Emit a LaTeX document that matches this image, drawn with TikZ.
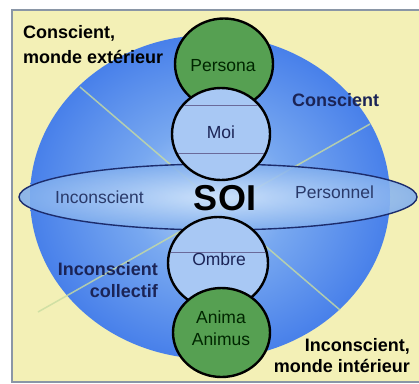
\documentclass[tikz,border=0pt]{standalone}
\usepackage{fontspec}
\setmainfont{Liberation Sans}
\usetikzlibrary{shapes.geometric}
\definecolor{bgyellow}{HTML}{F3F0B6}
\definecolor{framegray}{HTML}{8A96A6}
\definecolor{spherein}{HTML}{B8D6F8}
\definecolor{spheremid}{HTML}{78A8F0}
\definecolor{sphereout}{HTML}{4880EA}
\definecolor{discin}{HTML}{D0E4FB}
\definecolor{discout}{HTML}{80AEEE}
\definecolor{discline}{HTML}{1C2C6C}
\definecolor{cellblue}{HTML}{A8C8F4}
\definecolor{cellgreen}{HTML}{56A052}
\definecolor{navy}{HTML}{1B2456}
\definecolor{disctext}{HTML}{2A3A6A}
\definecolor{seam}{HTML}{C8DCA0}
\definecolor{cellline}{HTML}{6A6A9A}
\pgfdeclareradialshading{spheresh}{\pgfpoint{0bp}{0bp}}{color(0bp)=(spherein); color(11bp)=(spheremid); color(25bp)=(sphereout); color(50bp)=(sphereout)}
\pgfdeclareradialshading{discsh}{\pgfpoint{0bp}{0bp}}{color(0bp)=(discin); color(25bp)=(discout); color(50bp)=(discout)}
\begin{document}
\begin{tikzpicture}[x=1pt,y=-1pt,
  cell/.style={ellipse, draw=black, line width=2.4pt, inner sep=0pt, minimum width=98pt, minimum height=92pt},
  bluecell/.style={cell, fill=cellblue},
  greencell/.style={cell, fill=cellgreen},
  boldlabel/.style={font=\fontsize{18}{20}\selectfont\bfseries, inner sep=0pt},
  celltext/.style={font=\fontsize{17.5}{20}\selectfont, inner sep=0pt, anchor=base},
  disclabel/.style={font=\fontsize{17.5}{20}\selectfont, inner sep=0pt, text=disctext},
  seamline/.style={draw=seam, line width=1.5pt, opacity=0.8},
  thinline/.style={draw=cellline, line width=0.8pt}]
\useasboundingbox (0,0) rectangle (419,383);
\fill[white] (0,0) rectangle (419,383);
\fill[bgyellow] (12,10) rectangle (419,382);
\draw[framegray, line width=1.3pt] (420,10) -- (12,10) -- (12,382) -- (420,382);
% sphere
\node[ellipse, inner sep=0pt, minimum width=360pt, minimum height=324pt, shade, shading=spheresh] (sphere) at (210,197) {};
% seams
\coordinate (s1a) at (80,87);
\coordinate (s1b) at (340,310);
\coordinate (s2a) at (38,312);
\coordinate (s2b) at (370,124);
\draw[seamline] (s1a) -- (s1b);
\draw[seamline] (s2a) -- (s2b);
% disc
\node[ellipse, inner sep=0pt, minimum width=398pt, minimum height=66pt, shade, shading=discsh, fill opacity=0.88] (disc) at (218,197) {};
\draw[discline, line width=1.4pt] (218,197) ellipse [x radius=199pt, y radius=33pt];
% circles
\node[greencell, minimum height=91pt] (persona) at (224,64) {};
\node[bluecell] (moi) at (221,134) {};
\begin{scope}
\clip (221,134) ellipse [x radius=47.6pt, y radius=44.6pt];
\draw[thinline] (160,105) -- (280,105);
\draw[thinline] (160,153) -- (280,153);
\end{scope}
\node[bluecell, minimum width=100pt] (ombre) at (218,263) {};
\begin{scope}
\clip (218,263) ellipse [x radius=48.6pt, y radius=44.6pt];
\draw[thinline] (160,252) -- (280,252);
\end{scope}
\node[greencell, minimum width=97pt, minimum height=89pt] (anima) at (221.5,332.5) {};
% texts in circles
\node[celltext, text=black!85!green] (tpersona) at (223,71) {Persona};
\node[celltext, text=navy] (tmoi) at (221,138) {Moi};
\node[celltext, text=navy] (tombre) at (219,265) {Ombre};
\node[celltext, text=black!85!green] (tanima) at (221,323) {Anima};
\node[celltext, text=black!85!green] (tanimus) at (221,345) {Animus};
% SOI
\node[font=\fontsize{36}{40}\selectfont\bfseries, inner sep=0pt, anchor=base] (soi) at (225,210) {SOI};
% disc labels
\node[disclabel, anchor=base west] (linc) at (55,203) {Inconscient};
\node[disclabel, anchor=base west] (lpers) at (295,198) {Personnel};
% corner labels
\node[boldlabel, anchor=base west] (ce1) at (23,38) {Conscient,};
\node[boldlabel, anchor=base west] (ce2) at (23,63) {monde extérieur};
\node[boldlabel, anchor=base west, text=navy] (cons) at (292,106) {Conscient};
\node[boldlabel, anchor=base east, text=navy] (ic1) at (158,275) {Inconscient};
\node[boldlabel, anchor=base east, text=navy] (ic2) at (158,297) {collectif};
\node[boldlabel, anchor=base east] (ii1) at (410,351) {Inconscient,};
\node[boldlabel, anchor=base east] (ii2) at (410,372) {monde intérieur};
\end{tikzpicture}
\end{document}
